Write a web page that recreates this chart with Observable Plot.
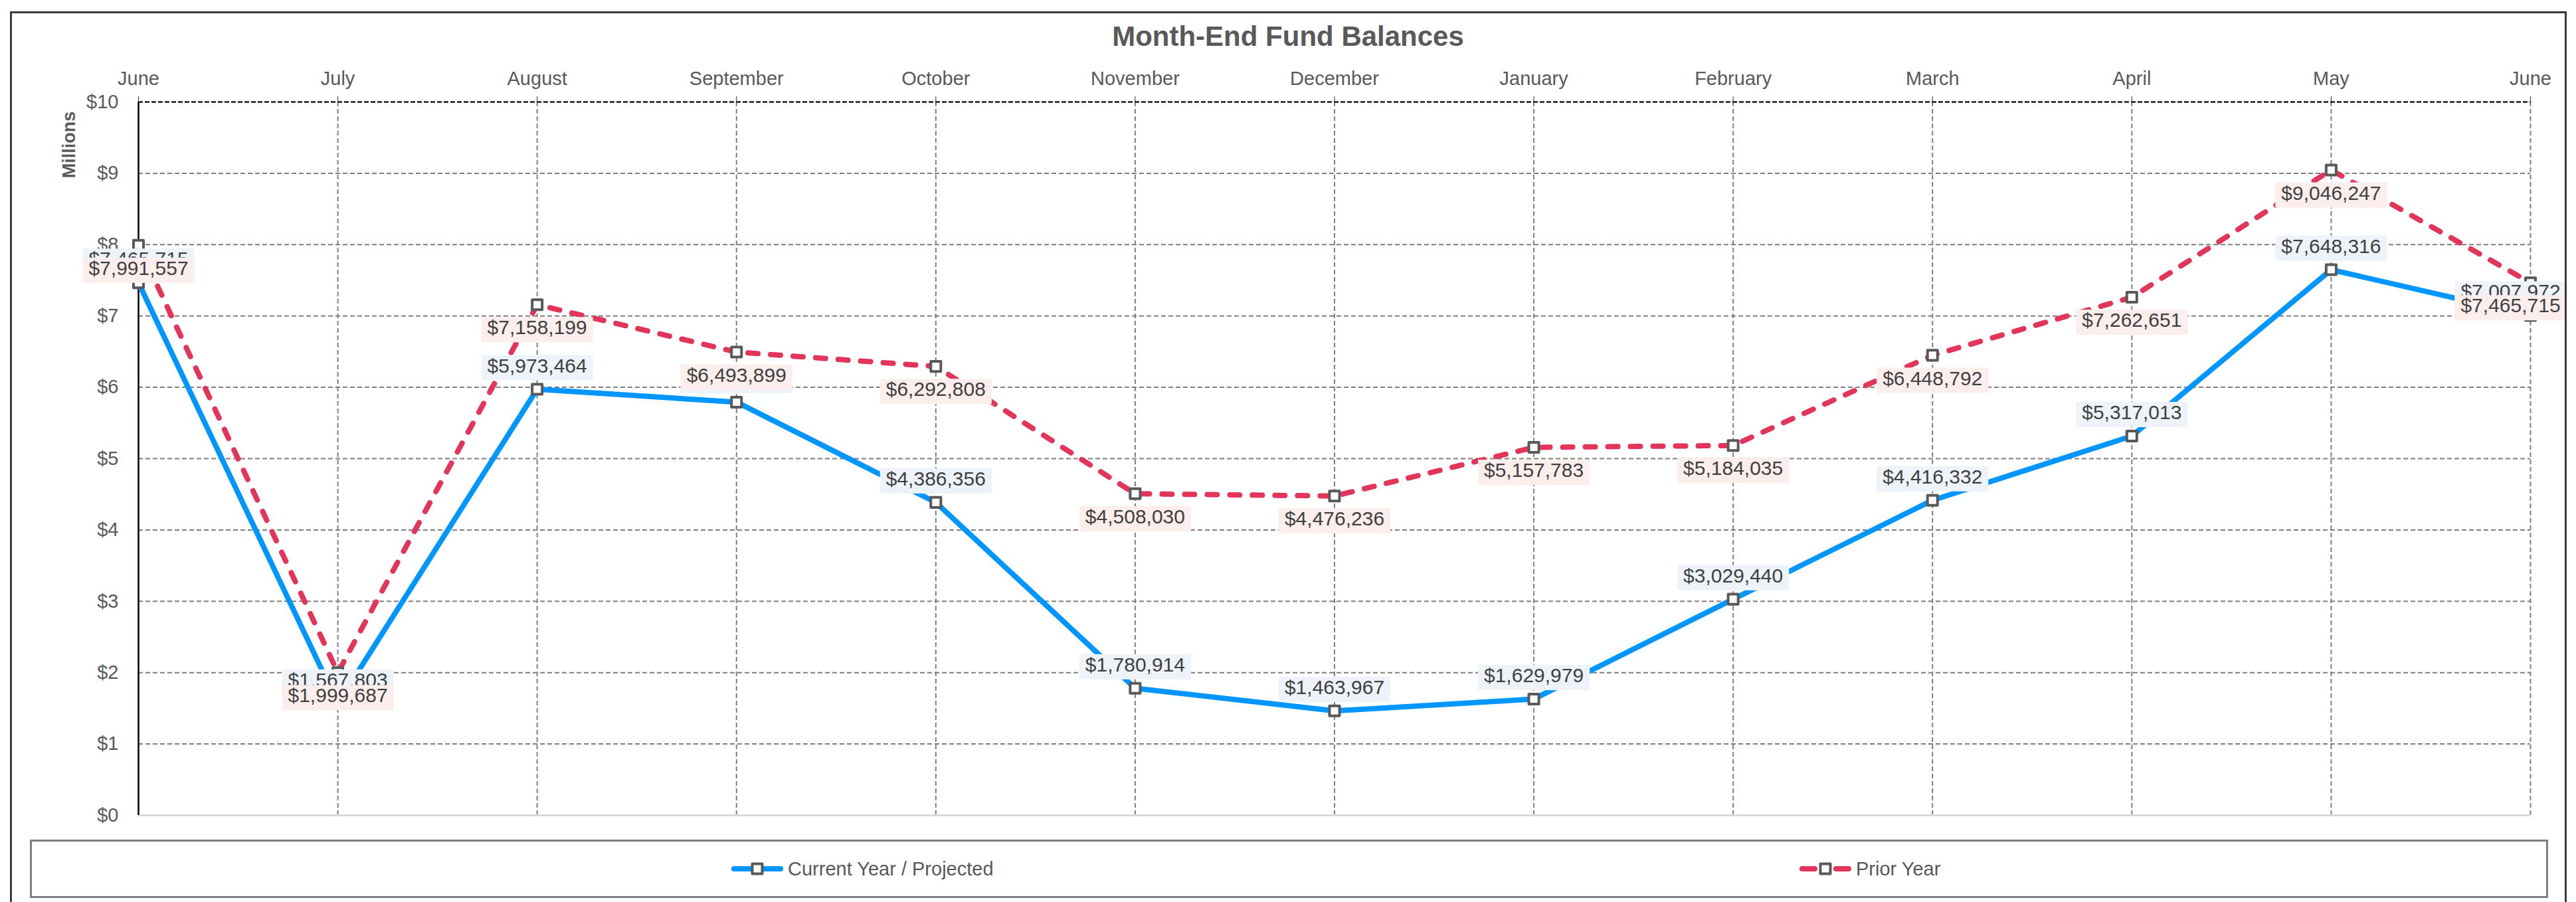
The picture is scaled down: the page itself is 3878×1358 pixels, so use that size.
<!DOCTYPE html>
<html>
<head>
<meta charset="utf-8">
<script src="https://cdn.jsdelivr.net/npm/d3@7"></script>
<script src="https://cdn.jsdelivr.net/npm/@observablehq/plot@0.6"></script>
<style>
  html, body { margin: 0; padding: 0; background: #fff; overflow: hidden; }
  body { width: 3878px; height: 1358px; position: relative;
         font-family: "Liberation Sans", Arial, sans-serif; }
  #chart { position: absolute; left: 0; top: 0; }
  .abs { position: absolute; }
  #title { left: 0; width: 3878px; top: 34px; text-align: center; font-size: 42px; line-height: 42px;
           font-weight: bold; color: #595959; }
  #ylabel { left: 104px; top: 218px; transform: translate(-50%, -50%) rotate(-90deg);
            font-size: 27px; font-weight: bold; color: #595959; white-space: nowrap; }
  #frame { left: 15px; top: 17px; width: 3843px; height: 1338px; border: 3px solid #3a3a3a; pointer-events: none; }
  #legend { left: 45px; top: 1264px; width: 3785px; height: 82px; border: 3px solid #7f7f7f; pointer-events: none; }
  .leg { position: absolute; top: 1290px; height: 36px; display: flex; align-items: center;
         font-size: 29px; color: #595959; white-space: nowrap; }
  .leg svg { margin-right: 6px; }
</style>
</head>
<body>
<div id="chart"></div>
<div id="title" class="abs">Month-End Fund Balances</div>
<div id="ylabel" class="abs">Millions</div>
<div id="legend" class="abs"></div>
<div id="frame" class="abs"></div>
<script>
// ---- data ----
const months = ["June","July","August","September","October","November","December","January","February","March","April","May","June"];
const currentYear = [7465715, 1567803, 5973464, 5792000, 4386356, 1780914, 1463967, 1629979, 3029440, 4416332, 5317013, 7648316, 7007972];
const priorYear   = [7991557, 1999687, 7158199, 6493899, 6292808, 4508030, 4476236, 5157783, 5184035, 6448792, 7262651, 9046247, 7465715];
const yTicks = [0, 1, 2, 3, 4, 5, 6, 7, 8, 9, 10];   // millions
const seriesNames = ["Current Year / Projected", "Prior Year"];

const BLUE = "#0096FF", RED = "#E3345A";
const fmt = v => "$" + d3.format(",")(v);

const rows = months.map((m, i) => ({i, m, cur: currentYear[i], prior: priorYear[i]}));
const idx = rows.map(d => d.i);
const last = rows.length - 1;
const yVals = yTicks.map(t => t * 1e6);

const plot = Plot.plot({
  width: 3878, height: 1250,
  marginTop: 153, marginBottom: 23, marginLeft: 208, marginRight: 69,
  style: {fontFamily: "'Liberation Sans', Arial, sans-serif", fontSize: "28px", color: "#595959",
          background: "transparent", overflow: "visible"},
  x: {type: "linear", domain: [0, last], axis: null, label: null},
  y: {type: "linear", domain: [0, 10e6], axis: null, label: null},
  marks: [
    Plot.gridY(yVals.filter(v => v > 0 && v < 10e6), {stroke: "#7f7f7f", strokeOpacity: 1, strokeWidth: 2, strokeDasharray: "7,4"}),
    Plot.gridX(idx.filter(i => i > 0), {stroke: "#7f7f7f", strokeOpacity: 1, strokeWidth: 2, strokeDasharray: "7,4"}),
    Plot.ruleY([10e6], {stroke: "#1a1a1a", strokeWidth: 2.5, strokeDasharray: "7,3"}),
    Plot.ruleY([0], {stroke: "#d9d9d9", strokeWidth: 3}),
    Plot.ruleX([0], {stroke: "#000", strokeWidth: 2.5}),
    Plot.axisX(idx, {anchor: "top", label: null, tickSize: 9, tickPadding: 17, tickFormat: i => months[i],
                     stroke: "#333", fill: "#595959", fontSize: 29}),
    Plot.axisY(yVals, {anchor: "left", label: null, tickSize: 0, tickPadding: 30, tickFormat: v => "$" + (v / 1e6),
                       fill: "#595959", fontSize: 29}),
    Plot.line(rows, {x: "i", y: "cur", stroke: BLUE, strokeWidth: 8, strokeLinejoin: "round", strokeLinecap: "round"}),
    Plot.line(rows, {x: "i", y: "prior", stroke: RED, strokeWidth: 8, strokeLinejoin: "round",
                     strokeLinecap: "round", strokeDasharray: "15,19"}),
    Plot.dot(rows, {x: "i", y: "cur", symbol: "square", r: 8.5, fill: "white", stroke: "#595959", strokeWidth: 4, strokeLinejoin: "round"}),
    Plot.dot(rows, {x: "i", y: "prior", symbol: "square", r: 8.5, fill: "white", stroke: "#595959", strokeWidth: 4, strokeLinejoin: "round"}),
    Plot.text(rows.filter(d => d.i < last), {x: "i", y: "cur", text: d => fmt(d.cur), dy: -35,
              fill: "#404040", fontSize: 30, className: "lbl-blue"}),
    Plot.text(rows.filter(d => d.i === last), {x: "i", y: "cur", text: d => fmt(d.cur), dy: -35, dx: -30,
              fill: "#404040", fontSize: 30, className: "lbl-blue"}),
    Plot.text(rows.filter(d => d.i < last), {x: "i", y: "prior", text: d => fmt(d.prior), dy: 35,
              fill: "#404040", fontSize: 30, className: "lbl-red"}),
    Plot.text(rows.filter(d => d.i === last), {x: "i", y: "prior", text: d => fmt(d.prior), dy: 35, dx: -30,
              fill: "#404040", fontSize: 30, className: "lbl-red"})
  ]
});
document.getElementById("chart").appendChild(plot);

// label background boxes
function addBoxes(cls, color) {
  plot.querySelectorAll("g." + cls).forEach(g => {
    g.querySelectorAll("text").forEach(t => {
      const b = t.getBBox();
      const r = document.createElementNS("http://www.w3.org/2000/svg", "rect");
      r.setAttribute("x", b.x - 9);
      r.setAttribute("y", b.y + 1);
      r.setAttribute("width", b.width + 18);
      r.setAttribute("height", b.height + 5);
      r.setAttribute("fill", color);
      if (t.getAttribute("transform")) r.setAttribute("transform", t.getAttribute("transform"));
      g.insertBefore(r, t);
    });
  });
}
addBoxes("lbl-blue", "#EEF3FA");
addBoxes("lbl-red", "#FDEEEE");

// legend
function legendItem(left, color, dashed, label) {
  const div = document.createElement("div");
  div.className = "leg";
  div.style.left = left + "px";
  const line = dashed
    ? `<line x1="5" y1="18" x2="24" y2="18" stroke="${color}" stroke-width="8" stroke-linecap="round"/>
       <line x1="56" y1="18" x2="75" y2="18" stroke="${color}" stroke-width="8" stroke-linecap="round"/>`
    : `<line x1="5" y1="18" x2="75" y2="18" stroke="${color}" stroke-width="8" stroke-linecap="round"/>`;
  div.innerHTML = `<svg width="80" height="36">${line}
      <rect x="32.5" y="10.5" width="15" height="15" fill="white" stroke="#595959" stroke-width="4" stroke-linejoin="round"/></svg>
      <span>${label}</span>`;
  document.body.appendChild(div);
}
legendItem(1100, BLUE, false, seriesNames[0]);
legendItem(2708, RED, true, seriesNames[1]);
</script>
</body>
</html>
